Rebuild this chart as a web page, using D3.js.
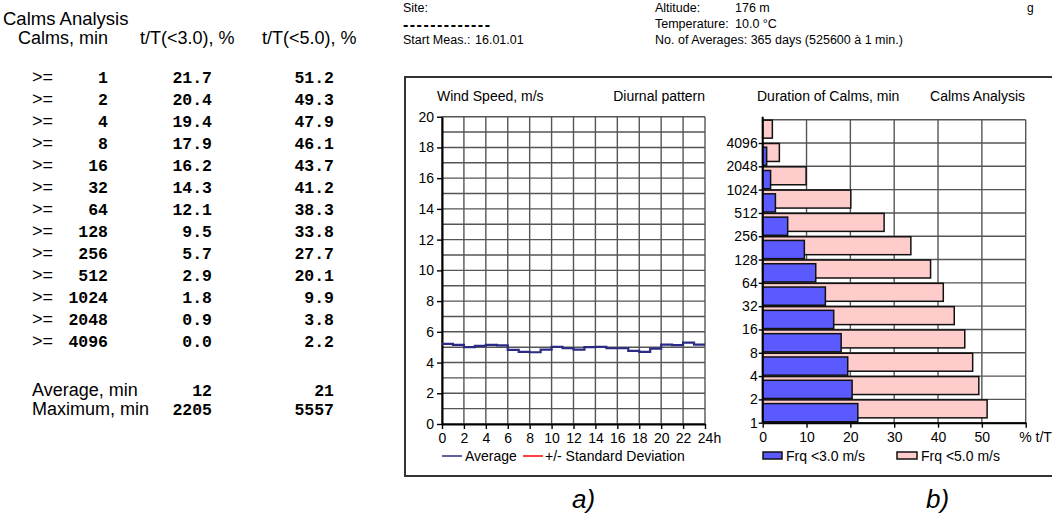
<!DOCTYPE html>
<html>
<head>
<meta charset="utf-8">
<script src="https://cdn.jsdelivr.net/npm/d3@7"></script>
<style>
  body { margin: 0; background: #fff; }
  text { font-family: "Liberation Sans", Arial, sans-serif; fill: #000; }
  .mono { font-family: "Liberation Mono", "Courier New", monospace; font-weight: bold; }
</style>
</head>
<body>
<div id="chart"></div>
<script>
// ---- data ----
var calmCats = ["1", "2", "4", "8", "16", "32", "64", "128", "256", "512", "1024", "2048", "4096"];
var frq3 = [21.7, 20.4, 19.4, 17.9, 16.2, 14.3, 12.1, 9.5, 5.7, 2.9, 1.8, 0.9, 0.0];
var frq5 = [51.2, 49.3, 47.9, 46.1, 43.7, 41.2, 38.3, 33.8, 27.7, 20.1, 9.9, 3.8, 2.2];
var statNames = ["Average, min", "Maximum, min"];
var stat3 = [12, 2205];
var stat5 = [21, 5557];

var hours = d3.range(0, 24);
var windAvg = [5.22, 5.15, 5.0, 5.08, 5.15, 5.12, 4.82, 4.69, 4.67, 4.84, 5.02, 4.93, 4.84, 5.0, 5.02, 4.93, 4.93, 4.76, 4.69, 4.9, 5.17, 5.13, 5.3, 5.17];
var windTicks = d3.range(0, 21, 2);
var hourTicks = d3.range(0, 25, 2);
var pctTicks = [0, 10, 20, 30, 40, 50, 60];

var width = 1052, height = 525;

var svg = d3.select("#chart")
    .append("svg")
    .attr("width", width)
    .attr("height", height);

svg.append("rect").attr("width", width).attr("height", height).attr("fill", "#fff");

// ---- left table ----
svg.append("text").attr("x", 3).attr("y", 25).attr("font-size", 18.5).text("Calms Analysis");
svg.append("text").attr("x", 18).attr("y", 44).attr("font-size", 18).text("Calms, min");
svg.append("text").attr("x", 140).attr("y", 44).attr("font-size", 18).text("t/T(<3.0), %");
svg.append("text").attr("x", 262).attr("y", 44).attr("font-size", 18).text("t/T(<5.0), %");

var rowY = d3.scaleLinear().domain([0, 12]).range([83, 346.7]);

var rows = svg.selectAll(".row")
    .data(calmCats)
    .enter().append("g")
    .attr("class", "row")
    .attr("transform", function(d, i) { return "translate(0," + rowY(i) + ")"; });

rows.append("text").attr("x", 32).attr("font-size", 18).text(">=");
rows.append("text").attr("class", "mono").attr("x", 108).attr("text-anchor", "end").attr("font-size", 16.5)
    .text(function(d) { return d; });
rows.append("text").attr("class", "mono").attr("x", 212).attr("text-anchor", "end").attr("font-size", 16.5)
    .text(function(d, i) { return frq3[i].toFixed(1); });
rows.append("text").attr("class", "mono").attr("x", 334).attr("text-anchor", "end").attr("font-size", 16.5)
    .text(function(d, i) { return frq5[i].toFixed(1); });

var stats = svg.selectAll(".stat")
    .data(statNames)
    .enter().append("g")
    .attr("transform", function(d, i) { return "translate(0," + (396 + i * 19) + ")"; });
stats.append("text").attr("x", 32).attr("font-size", 18).text(function(d) { return d; });
stats.append("text").attr("class", "mono").attr("x", 212).attr("text-anchor", "end").attr("font-size", 16.5)
    .text(function(d, i) { return stat3[i]; });
stats.append("text").attr("class", "mono").attr("x", 334).attr("text-anchor", "end").attr("font-size", 16.5)
    .text(function(d, i) { return stat5[i]; });

// ---- header info ----
var info = svg.append("g").style("white-space", "pre");
info.append("text").attr("x", 403).attr("y", 12).attr("font-size", 12.5).text("Site:");
info.append("text").attr("x", 403).attr("y", 30).attr("font-size", 16).attr("font-weight", "bold")
    .attr("textLength", 87).attr("lengthAdjust", "spacing").text("-------------");
info.append("text").attr("x", 403).attr("y", 44).attr("font-size", 12.5).text("Start Meas.:");
info.append("text").attr("x", 475).attr("y", 44).attr("font-size", 12.5).text("16.01.01");
info.append("text").attr("x", 655).attr("y", 12).attr("font-size", 12.5).text("Altitude:");
info.append("text").attr("x", 735).attr("y", 12).attr("font-size", 12.5).text("176 m");
info.append("text").attr("x", 655).attr("y", 28).attr("font-size", 12.5).text("Temperature:");
info.append("text").attr("x", 735).attr("y", 28).attr("font-size", 12.5).text("10.0 °C");
info.append("text").attr("x", 655).attr("y", 44).attr("font-size", 12.5)
    .text("No. of Averages: 365 days (525600 à  1 min.)");
info.append("text").attr("x", 1027).attr("y", 12).attr("font-size", 12).text("g");

// outer frame
svg.append("rect")
    .attr("x", 405).attr("y", 77)
    .attr("width", 700).attr("height", 399)
    .attr("fill", "none").attr("stroke", "#333").attr("stroke-width", 2);

var gridColor = "#555";

// ---- chart a) diurnal pattern ----
var xL = d3.scaleLinear().domain([0, 24]).range([442, 705]);
var yL = d3.scaleLinear().domain([0, 20]).range([424, 116.7]);

var gA = svg.append("g");

gA.selectAll(".hgrid")
    .data(d3.range(0, 21))
    .enter().append("line")
    .attr("x1", xL(0)).attr("x2", xL(24))
    .attr("y1", function(d) { return yL(d); })
    .attr("y2", function(d) { return yL(d); })
    .attr("stroke", gridColor).attr("stroke-width", 1.4);

gA.selectAll(".vgrid")
    .data(hourTicks)
    .enter().append("line")
    .attr("x1", function(d) { return xL(d); })
    .attr("x2", function(d) { return xL(d); })
    .attr("y1", yL(0)).attr("y2", yL(20))
    .attr("stroke", gridColor).attr("stroke-width", 1.4);

var axLy = gA.append("g")
    .attr("transform", "translate(" + xL(0) + ",0)")
    .call(d3.axisLeft(yL).tickValues(windTicks).tickSize(5).tickSizeOuter(0).tickPadding(3));
var axLx = gA.append("g")
    .attr("transform", "translate(0," + yL(0) + ")")
    .call(d3.axisBottom(xL).tickValues(hourTicks).tickSize(5).tickSizeOuter(0).tickPadding(4)
        .tickFormat(function(d) { return d === 24 ? "24h" : d; }));
axLx.selectAll("text").filter(function(d) { return d === 24; }).attr("dx", 4);

[axLy, axLx].forEach(function(ax) {
    ax.select(".domain").attr("stroke", "#000").attr("stroke-width", 2);
    ax.selectAll(".tick line").attr("stroke", "#000").attr("stroke-width", 1.4);
    ax.selectAll("text").attr("font-size", 14).attr("font-family", "Liberation Sans, Arial, sans-serif").attr("fill", "#000");
});

var windLine = d3.line()
    .curve(d3.curveStepAfter)
    .x(function(d) { return xL(d[0]); })
    .y(function(d) { return yL(d[1]); });
var windPts = hours.map(function(h, i) { return [h, windAvg[i]]; });
windPts.push([24, windAvg[23]]);

gA.append("path")
    .datum(windPts)
    .attr("d", windLine)
    .attr("fill", "none")
    .attr("stroke", "#2b2b85")
    .attr("stroke-width", 2.2);

gA.append("text").attr("x", 437).attr("y", 101).attr("font-size", 14).text("Wind Speed, m/s");
gA.append("text").attr("x", 705).attr("y", 101).attr("font-size", 14).attr("text-anchor", "end").text("Diurnal pattern");

// legend a
gA.append("line").attr("x1", 442).attr("x2", 462).attr("y1", 456).attr("y2", 456)
    .attr("stroke", "#2b2b85").attr("stroke-width", 1.5);
gA.append("text").attr("x", 465).attr("y", 461).attr("font-size", 14).text("Average");
gA.append("line").attr("x1", 523).attr("x2", 543).attr("y1", 456).attr("y2", 456)
    .attr("stroke", "#ff0000").attr("stroke-width", 1.5);
gA.append("text").attr("x", 545).attr("y", 461).attr("font-size", 14).text("+/- Standard Deviation");

// ---- chart b) calms analysis ----
var xR = d3.scaleLinear().domain([0, 60]).range([762.7, 1025.7]);
var yR = d3.scaleLinear().domain([0, 13]).range([422.7, 119.7]);
var bw = yR(0) - yR(1);

var gB = svg.append("g");

gB.selectAll(".hgrid")
    .data(d3.range(0, 14))
    .enter().append("line")
    .attr("x1", xR(0)).attr("x2", xR(60))
    .attr("y1", function(d) { return yR(d); })
    .attr("y2", function(d) { return yR(d); })
    .attr("stroke", gridColor).attr("stroke-width", 1.4);

gB.selectAll(".vgrid")
    .data(pctTicks)
    .enter().append("line")
    .attr("x1", function(d) { return xR(d); })
    .attr("x2", function(d) { return xR(d); })
    .attr("y1", yR(0)).attr("y2", yR(13))
    .attr("stroke", gridColor).attr("stroke-width", 1.4);

// pink bars (behind)
gB.selectAll(".bar5")
    .data(frq5)
    .enter().append("rect")
    .attr("class", "bar5")
    .attr("x", xR(0))
    .attr("y", function(d, i) { return yR(i + 1) + 0.5; })
    .attr("width", function(d) { return xR(d) - xR(0); })
    .attr("height", bw * 0.77)
    .attr("fill", "#ffcccc")
    .attr("stroke", "#111")
    .attr("stroke-width", 1.5);

// blue bars (front)
gB.selectAll(".bar3")
    .data(frq3)
    .enter().append("rect")
    .attr("class", "bar3")
    .attr("x", xR(0))
    .attr("y", function(d, i) { return yR(i + 1) + bw * 0.18; })
    .attr("width", function(d) { return xR(d) - xR(0); })
    .attr("height", bw * 0.78)
    .attr("fill", "#5a5aff")
    .attr("stroke", "#111")
    .attr("stroke-width", function(d) { return d > 0 ? 1.5 : 0; });

var axRy = gB.append("g")
    .attr("transform", "translate(" + xR(0) + ",0)")
    .call(d3.axisLeft(yR).tickValues(d3.range(0, 13)).tickSize(4).tickSizeOuter(0).tickPadding(1)
        .tickFormat(function(i) { return calmCats[i]; }));
axRy.select(".domain").attr("d", "M0," + yR(0) + "V" + (yR(13) - 3));

var axRx = gB.append("g")
    .attr("transform", "translate(0," + yR(0) + ")")
    .call(d3.axisBottom(xR).tickValues(pctTicks).tickSize(5).tickSizeOuter(0).tickPadding(4)
        .tickFormat(function(d) { return d === 60 ? "% t/T" : d; }));
axRx.selectAll("text").filter(function(d) { return d === 60; })
    .attr("text-anchor", "start").attr("dx", -7);

[axRy, axRx].forEach(function(ax) {
    ax.select(".domain").attr("stroke", "#000").attr("stroke-width", 2);
    ax.selectAll(".tick line").attr("stroke", "#000").attr("stroke-width", 1.4);
    ax.selectAll("text").attr("font-size", 14).attr("font-family", "Liberation Sans, Arial, sans-serif").attr("fill", "#000");
});

gB.append("text").attr("x", 757).attr("y", 101).attr("font-size", 14).text("Duration of Calms, min");
gB.append("text").attr("x", 1025).attr("y", 101).attr("font-size", 14).attr("text-anchor", "end").text("Calms Analysis");

// legend b
gB.append("rect").attr("x", 763).attr("y", 452).attr("width", 19).attr("height", 7)
    .attr("fill", "#5a5aff").attr("stroke", "#111").attr("stroke-width", 1.5);
gB.append("text").attr("x", 786).attr("y", 461).attr("font-size", 14).text("Frq <3.0 m/s");
gB.append("rect").attr("x", 897).attr("y", 452).attr("width", 20).attr("height", 7)
    .attr("fill", "#ffcccc").attr("stroke", "#111").attr("stroke-width", 1.5);
gB.append("text").attr("x", 921).attr("y", 461).attr("font-size", 14).text("Frq <5.0 m/s");

// sub-figure labels
svg.append("text").attr("x", 572).attr("y", 508).attr("font-size", 26)
    .attr("font-family", "Liberation Serif, Times New Roman, serif").attr("font-style", "italic").text("a)");
svg.append("text").attr("x", 926).attr("y", 508).attr("font-size", 26)
    .attr("font-family", "Liberation Serif, Times New Roman, serif").attr("font-style", "italic").text("b)");
</script>
</body>
</html>
